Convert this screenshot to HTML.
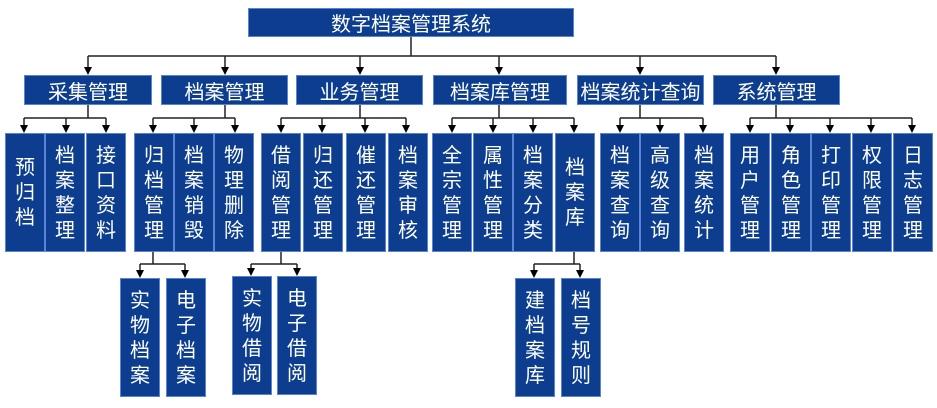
<!DOCTYPE html>
<html><head><meta charset="utf-8"><style>
body{margin:0;width:937px;height:408px;background:#fff;position:relative;overflow:hidden;font-family:"Liberation Sans","Noto Sans CJK SC",sans-serif}
.b{position:absolute;background:#0c3d8e;border:1px solid #5a82d6;box-sizing:border-box;color:#fff;display:flex;align-items:center;justify-content:center;text-align:center}
.h{font-size:20px;height:30px;top:75px}
.v{font-size:20px;line-height:25px;width:40px;padding-top:2px}
svg{position:absolute;left:0;top:0;z-index:2}
</style></head><body>
<svg width="937" height="408" id="s">
<g stroke="#222" stroke-width="1.5" fill="none" id="g"></g>
<g fill="#000" id="ar"></g>
</svg>
<script>
var g=document.getElementById('g'),ar=document.getElementById('ar'),NS='http://www.w3.org/2000/svg';
function L(d){var p=document.createElementNS(NS,'path');p.setAttribute('d',d);g.appendChild(p);}
function A(x,y1,y2){L('M'+x+' '+y1+'V'+(y2-6));var p=document.createElementNS(NS,'path');p.setAttribute('d','M'+(x-4)+' '+(y2-8)+'H'+(x+4)+'L'+x+' '+y2+'Z');ar.appendChild(p);}
L('M411 37V56M88 56H776');
[88,225,360,499,640,776].forEach(function(x){A(x,56,75)});
function grp(px,xs,y0,yh,y2){L('M'+px+' '+y0+'V'+yh+'M'+Math.min(px,xs[0])+' '+yh+'H'+Math.max(px,xs[xs.length-1]));xs.forEach(function(x){A(x,yh,y2)});}
grp(88,[24,66,106],105,118,133);
grp(225,[153,194,235],105,118,133);
grp(360,[281,322,365,406],105,118,133);
grp(499,[452,493,533,574],105,118,133);
grp(640,[620,660,703],105,118,133);
grp(776,[750,790,830,871,912],105,118,133);
grp(153,[140,185],252,264,278);
grp(281,[251,297],252,264,276);
grp(574,[534,580],252,264,278);
</script>
<div class="b" style="left:248px;top:8px;width:326px;height:29px;font-size:20px">数字档案管理系统</div>
<div class="b h" style="left:24px;width:128px">采集管理</div>
<div class="b h" style="left:161px;width:127px">档案管理</div>
<div class="b h" style="left:296px;width:127px">业务管理</div>
<div class="b h" style="left:433px;width:134px">档案库管理</div>
<div class="b h" style="left:577px;width:127px">档案统计查询</div>
<div class="b h" style="left:713px;width:127px">系统管理</div>

<div class="b v" style="left:5px;top:133px;height:119px">预<br>归<br>档</div>
<div class="b v" style="left:45px;top:133px;height:119px">档<br>案<br>整<br>理</div>
<div class="b v" style="left:86px;top:133px;height:119px">接<br>口<br>资<br>料</div>
<div class="b v" style="left:134px;top:133px;height:119px">归<br>档<br>管<br>理</div>
<div class="b v" style="left:174px;top:133px;height:119px">档<br>案<br>销<br>毁</div>
<div class="b v" style="left:214px;top:133px;height:119px">物<br>理<br>删<br>除</div>
<div class="b v" style="left:261px;top:133px;height:119px">借<br>阅<br>管<br>理</div>
<div class="b v" style="left:303px;top:133px;height:119px">归<br>还<br>管<br>理</div>
<div class="b v" style="left:346px;top:133px;height:119px">催<br>还<br>管<br>理</div>
<div class="b v" style="left:388px;top:133px;height:119px">档<br>案<br>审<br>核</div>
<div class="b v" style="left:432px;top:133px;height:119px">全<br>宗<br>管<br>理</div>
<div class="b v" style="left:473px;top:133px;height:119px">属<br>性<br>管<br>理</div>
<div class="b v" style="left:513px;top:133px;height:119px">档<br>案<br>分<br>类</div>
<div class="b v" style="left:555px;top:133px;height:119px">档<br>案<br>库</div>
<div class="b v" style="left:600px;top:133px;height:119px">档<br>案<br>查<br>询</div>
<div class="b v" style="left:640px;top:133px;height:119px">高<br>级<br>查<br>询</div>
<div class="b v" style="left:684px;top:133px;height:119px">档<br>案<br>统<br>计</div>
<div class="b v" style="left:730px;top:133px;height:119px">用<br>户<br>管<br>理</div>
<div class="b v" style="left:771px;top:133px;height:119px">角<br>色<br>管<br>理</div>
<div class="b v" style="left:811px;top:133px;height:119px">打<br>印<br>管<br>理</div>
<div class="b v" style="left:852px;top:133px;height:119px">权<br>限<br>管<br>理</div>
<div class="b v" style="left:893px;top:133px;height:119px">日<br>志<br>管<br>理</div>

<div class="b v" style="left:120px;top:278px;height:119px">实<br>物<br>档<br>案</div>
<div class="b v" style="left:166px;top:278px;height:119px">电<br>子<br>档<br>案</div>
<div class="b v" style="left:232px;top:276px;height:119px">实<br>物<br>借<br>阅</div>
<div class="b v" style="left:277px;top:276px;height:119px">电<br>子<br>借<br>阅</div>
<div class="b v" style="left:515px;top:278px;height:119px">建<br>档<br>案<br>库</div>
<div class="b v" style="left:561px;top:278px;height:119px">档<br>号<br>规<br>则</div>
</body></html>
